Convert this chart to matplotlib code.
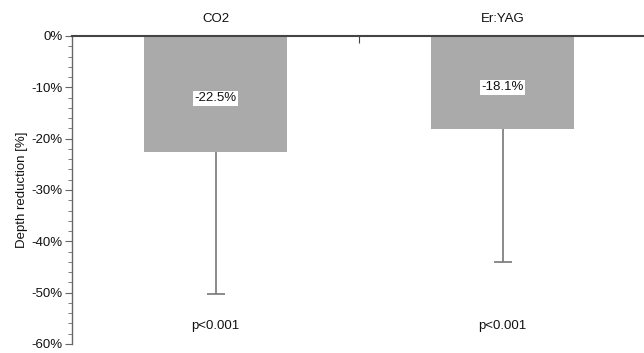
import matplotlib.pyplot as plt
from matplotlib.ticker import MultipleLocator, FuncFormatter

# data
groups = ['CO2', 'Er:YAG']
means = [-22.5, -18.1]
err_low = [27.8, 25.9]
value_labels = ['-22.5%', '-18.1%']
p_labels = ['p<0.001', 'p<0.001']

plt.rcParams['font.family'] = ['Liberation Sans', 'DejaVu Sans']
plt.rcParams['font.size'] = 9.5

fig = plt.figure(figsize=(6.44, 3.53), dpi=100)
ax = fig.add_axes([72 / 644, 1 - 344 / 353, (644 - 72) / 644, (344 - 36) / 353])

x = list(range(len(groups)))
ax.bar(x, means, width=0.5, color='#aaaaaa', zorder=2)

# only the lower whisker, with a cap at its end
lows = [m - e for m, e in zip(means, err_low)]
ax.vlines(x, lows, means, color='#777777', linewidth=1.2, zorder=3)
ax.plot(x, lows, linestyle='none', marker='_', markersize=13,
        markeredgewidth=1.2, color='#777777', zorder=3)

for xi, m, lab in zip(x, means, value_labels):
    ax.text(xi, m / 2 - 0.9, lab, ha='center', va='center', color='#111111',
            bbox=dict(facecolor='white', edgecolor='none', pad=1.0), zorder=4)
for xi, lab in zip(x, p_labels):
    ax.text(xi, -56.4, lab, ha='center', va='center', color='#111111')
for xi, g in zip(x, groups):
    ax.text(xi, 3.4, g, ha='center', va='center', color='#111111', clip_on=False)

ax.set_xlim(-0.5, 1.493)
ax.set_ylim(-60, 0)
ax.spines['bottom'].set_visible(False)
ax.spines['right'].set_visible(False)
ax.spines['top'].set_color('#444444')
ax.spines['top'].set_linewidth(1.5)
ax.spines['left'].set_color('#666666')
ax.spines['left'].set_linewidth(1.0)

ax.set_xticks([0.5])
ax.set_xticklabels([])
ax.xaxis.set_ticks_position('top')
ax.tick_params(axis='x', direction='in', length=5, color='#444444')

ax.yaxis.set_major_locator(MultipleLocator(10))
ax.yaxis.set_minor_locator(MultipleLocator(2))
ax.yaxis.set_major_formatter(FuncFormatter(lambda v, p: f'{v:.0f}%'))
ax.tick_params(axis='y', which='major', length=5, color='#666666', pad=2,
               labelcolor='#111111')
ax.tick_params(axis='y', which='minor', length=3, color='#666666')
ax.set_ylabel('Depth reduction [%]', labelpad=2, color='#111111')

fig.savefig('out.png', dpi=100)
